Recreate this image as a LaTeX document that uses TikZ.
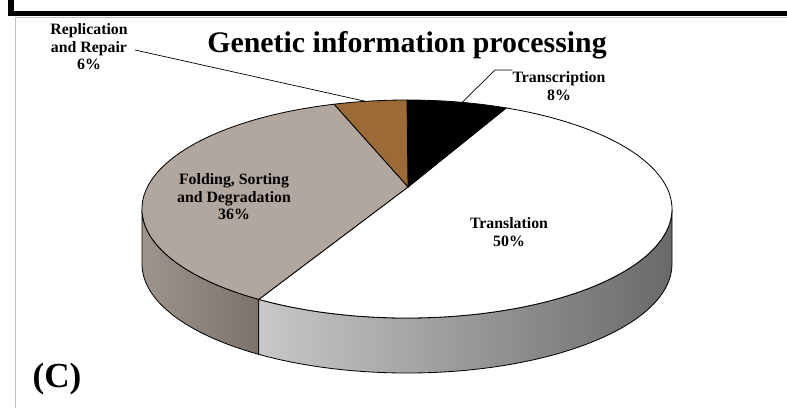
\documentclass[tikz,border=0pt]{standalone}
\usepackage{fontspec}
\setmainfont{Liberation Serif}
\usetikzlibrary{calc}
\definecolor{repbrown}{RGB}{156,106,54}
\definecolor{foldtan}{RGB}{178,167,159}
\definecolor{foldsideA}{RGB}{158,148,140}
\definecolor{foldsideB}{RGB}{122,114,108}
\definecolor{transsideA}{RGB}{200,200,200}
\definecolor{transsideB}{RGB}{168,168,168}
\definecolor{transsideC}{RGB}{106,106,106}
\begin{document}
\begin{tikzpicture}[
  x=0.03cm, y=0.03cm,
  lbl/.style={font=\fontsize{13.5}{15}\selectfont\bfseries, align=center, inner sep=0pt},
  edge/.style={line width=0.7pt, draw=black},
  lead/.style={line width=0.6pt, draw=black}
]
  \useasboundingbox (0,0) rectangle (787,408);

  % Marco
  \draw[line width=4.7pt] (11,408) -- (11,394.5) -- (787,394.5);
  \draw[gray!50, line width=0.6pt] (15.5,0) -- (15.5,391) -- (787,391);

  % Centro de la tarta
  \coordinate (c) at (407,199);
  \coordinate (apex) at (408,221);

  % Caras laterales
  \shadedraw[edge, left color=foldsideA, right color=foldsideB]
    ($(c)+(180:265 and 109)$) arc[start angle=180, end angle=236, x radius=265, y radius=109]
    -- ++(0,-55) arc[start angle=236, end angle=180, x radius=265, y radius=109] -- cycle;
  \shadedraw[edge, left color=transsideA, middle color=transsideB, right color=transsideC]
    ($(c)+(236:265 and 109)$) arc[start angle=236, end angle=360, x radius=265, y radius=109]
    -- ++(0,-55) arc[start angle=360, end angle=236, x radius=265, y radius=109] -- cycle;

  % Sectores
  \filldraw[edge, fill=white] (apex) -- ($(c)+(236:265 and 109)$)
    arc[start angle=236, end angle=428, x radius=265, y radius=109] -- cycle;
  \filldraw[edge, fill=black] (apex) -- ($(c)+(68:265 and 109)$)
    arc[start angle=68, end angle=90, x radius=265, y radius=109] -- cycle;
  \filldraw[edge, fill=repbrown] (apex) -- ($(c)+(90:265 and 109)$)
    arc[start angle=90, end angle=106, x radius=265, y radius=109] -- cycle;
  \filldraw[edge, fill=foldtan] (apex) -- ($(c)+(106:265 and 109)$)
    arc[start angle=106, end angle=236, x radius=265, y radius=109] -- cycle;

  % Titulo y etiquetas
  \node[font=\fontsize{25.5}{30}\selectfont\bfseries, anchor=base] (title) at (407,356) {Genetic information processing};
  \node[lbl] (repl) at (89,361) {Replication\\and Repair\\6\%};
  \node[lbl] (trans) at (559,322) {Transcription\\8\%};
  \node[lbl] (fold) at (234,211) {Folding, Sorting\\and Degradation\\36\%};
  \node[lbl] (transl) at (509,176) {Translation\\50\%};
  \node[font=\fontsize{30}{30}\selectfont\bfseries] (tag) at (57,29) {(C)};

  % Lineas guia
  \coordinate (repl-pt) at ($(c)+(99:265 and 109)$);
  \coordinate (repl-end) at (135,358);
  \draw[lead] (repl-end) -- (repl-pt);
  \coordinate (trans-pt) at ($(c)+(78:265 and 109)$);
  \coordinate (trans-bend) at (495,338);
  \draw[lead] (trans-pt) -- (trans-bend) -- (trans-bend -| trans.west);

\end{tikzpicture}
\end{document}
